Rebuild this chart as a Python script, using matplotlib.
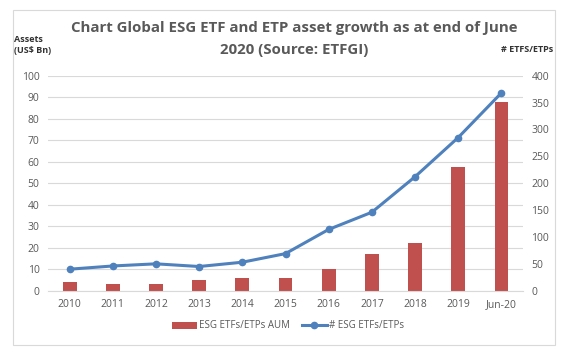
import matplotlib
import numpy as np
from matplotlib import pyplot as plt
from matplotlib.patches import Rectangle

matplotlib.use('Agg')

years = ['2010', '2011', '2012', '2013', '2014', '2015', '2016', '2017', '2018', '2019', 'Jun-20']
aum = [3.9, 3.1, 3.1, 4.8, 5.9, 5.8, 9.9, 16.9, 22.0, 57.7, 87.6]
count = [40, 46, 50, 45, 53, 69, 114, 146, 212, 285, 368]

plt.rcParams['font.family'] = ['Open Sans', 'DejaVu Sans']
txt = '#595959'

fig = plt.figure(figsize=(5.67, 3.58), dpi=100)
fig.patches.append(Rectangle((13 / 567, 1 - 345 / 358), 542 / 567, 335 / 358,
                             transform=fig.transFigure, fill=False, edgecolor='#d9d9d9', lw=0.8))

ax = fig.add_axes([48 / 567, 1 - 290.7 / 358, 475 / 567, 215 / 358])
x = np.arange(len(years))
bars = ax.bar(x, aum, width=0.32, color='#c0504d', zorder=2, label='ESG ETFs/ETPs AUM')
ax.set_xlim(-0.5, len(years) - 0.5)
ax.set_ylim(0, 100)
ax.set_yticks(range(0, 101, 10))
ax.grid(axis='y', color='#d9d9d9', lw=0.8, zorder=0)
ax.set_xticks(x)
ax.set_xticklabels(years)
for s in ax.spines.values():
    s.set_visible(False)
ax.spines['bottom'].set_visible(True)
ax.spines['bottom'].set_color('#d9d9d9')
ax.tick_params(length=0, labelsize=7.5, colors=txt, pad=6)

ax2 = ax.twinx()
line, = ax2.plot(x, count, color='#4f81bd', lw=2.2, marker='o', markersize=4.5,
                 zorder=3, label='# ESG ETFs/ETPs')
ax2.set_ylim(0, 400)
ax2.set_yticks(range(0, 401, 50))
for s in ax2.spines.values():
    s.set_visible(False)
ax2.tick_params(length=0, labelsize=7.5, colors=txt, pad=6)

fig.text(294 / 567, 1 - 28 / 358, 'Chart Global ESG ETF and ETP asset growth as at end of June',
         ha='center', va='center', fontsize=10.8, fontweight='bold', color=txt)
fig.text(294 / 567, 1 - 50 / 358, '2020 (Source: ETFGI)',
         ha='center', va='center', fontsize=10.8, fontweight='bold', color=txt)
fig.text(14 / 567, 1 - 45 / 358, 'Assets\n(US$ Bn)', ha='left', va='center',
         fontsize=6.5, fontweight='bold', color='#333333', linespacing=1.2)
fig.text(553 / 567, 1 - 50 / 358, '# ETFS/ETPs', ha='right', va='center',
         fontsize=6.5, fontweight='bold', color='#333333')

fig.legend([bars, line], ['ESG ETFs/ETPs AUM', '# ESG ETFs/ETPs'], loc='center',
           bbox_to_anchor=(288 / 567, 1 - 326 / 358), ncol=2, frameon=False,
           fontsize=7, labelcolor=txt, handlelength=2.6, handletextpad=0.2, columnspacing=1.2)

fig.savefig('out.png', dpi=100)
